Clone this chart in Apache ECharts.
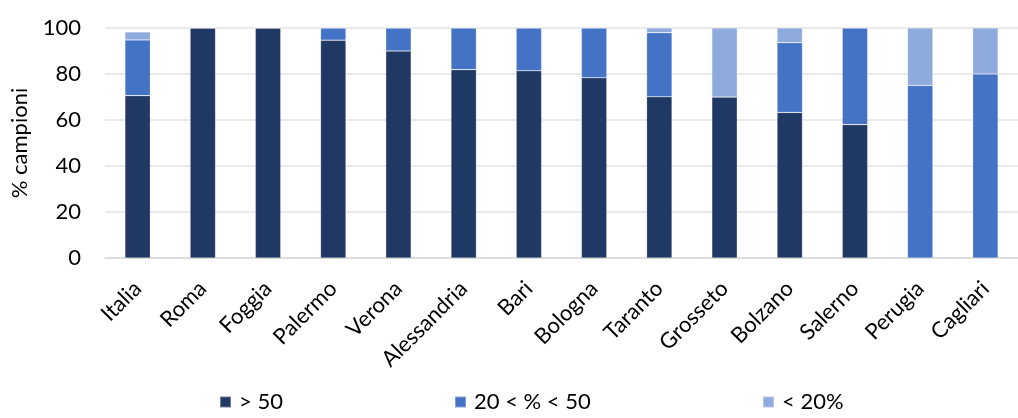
<!DOCTYPE html>
<html>
<head>
<meta charset="utf-8">
<script src="https://cdn.jsdelivr.net/npm/echarts@6/dist/echarts.min.js"></script>
<style>html,body{margin:0;padding:0;background:#fff}#c{width:1018px;height:418px}</style>
</head>
<body>
<div id="c"></div>
<script>
const categories = ['Italia','Roma','Foggia','Palermo','Verona','Alessandria','Bari','Bologna','Taranto','Grosseto','Bolzano','Salerno','Perugia','Cagliari'];
const over50 = [70.6, 100, 100, 94.7, 90, 81.9, 81.4, 78.4, 70.1, 70, 63.3, 58, 0, 0];
const between20and50 = [24.2, 0, 0, 5.3, 10, 18.1, 18.6, 21.6, 27.9, 0, 30.3, 42, 75, 80];
const under20 = [3.5, 0, 0, 0, 0, 0, 0, 0, 2, 30, 6.4, 0, 25, 20];
const seriesNames = ['> 50', '20 < % < 50', '< 20%'];
const yTicks = [0, 20, 40, 60, 80, 100];

const FONT = 'Lato, "Open Sans", sans-serif';
const FS = 22;
const colors = ['#203864', '#4472C4', '#8FAADC'];
const chart = echarts.init(document.getElementById('c'), null, {renderer: 'canvas'});
const mk = (name, data, i) => ({
  name, type: 'bar', stack: 'total', data, barWidth: '39%',
  itemStyle: {color: colors[i], borderColor: 'rgba(255,255,255,0.35)', borderWidth: 0.6},
  emphasis: {disabled: true}
});
const legendBase = {bottom: 0, itemWidth: 11, itemHeight: 11, icon: 'rect',
  textStyle: {fontFamily: FONT, fontSize: FS, color: '#000', padding: [0, 0, 0, 3]}};
chart.setOption({
  animation: false,
  color: colors,
  grid: {left: 105, right: -10, top: 28, bottom: 160, containLabel: false},
  legend: [
    Object.assign({}, legendBase, {left: 214, data: [seriesNames[0]]}),
    Object.assign({}, legendBase, {left: 449, data: [seriesNames[1]]}),
    Object.assign({}, legendBase, {left: 757, data: [seriesNames[2]]})
  ],
  xAxis: {
    type: 'category', data: categories,
    axisLine: {lineStyle: {color: '#d9d9d9', width: 1.5}},
    axisTick: {show: false},
    axisLabel: {rotate: 45, interval: 0, fontFamily: FONT, fontSize: FS, color: '#000', margin: 27}
  },
  yAxis: {
    type: 'value', min: yTicks[0], max: yTicks[yTicks.length - 1], interval: 20,
    name: '% campioni', nameLocation: 'middle', nameGap: 74, nameRotate: 90,
    nameTextStyle: {fontFamily: FONT, fontSize: FS, color: '#000'},
    axisLine: {show: false}, axisTick: {show: false},
    axisLabel: {fontFamily: FONT, fontSize: FS, color: '#000', margin: 24},
    splitLine: {lineStyle: {color: '#e3e3e3', width: 1.5}}
  },
  series: [mk(seriesNames[0], over50, 0), mk(seriesNames[1], between20and50, 1), mk(seriesNames[2], under20, 2)]
});
</script>
</body>
</html>
